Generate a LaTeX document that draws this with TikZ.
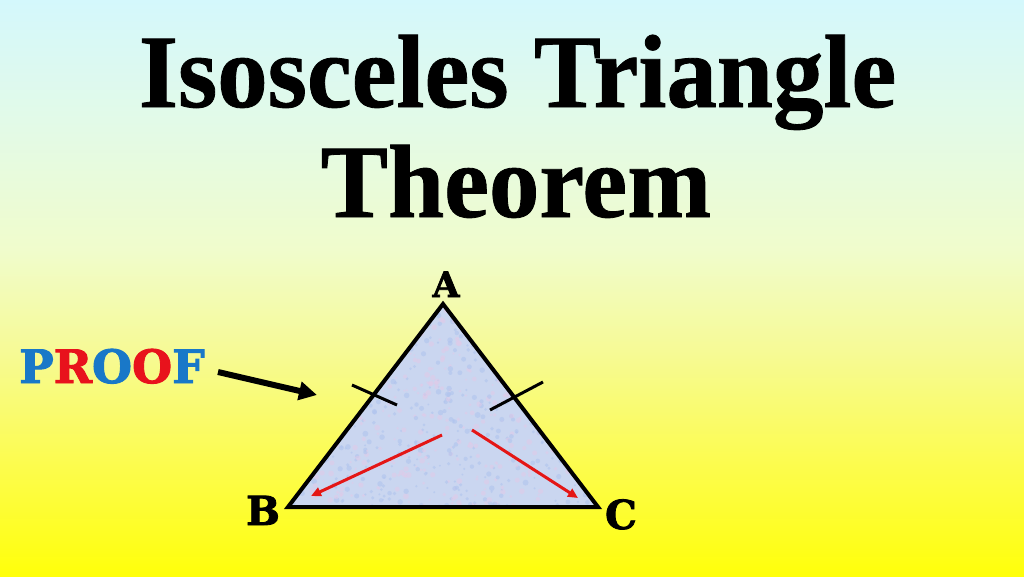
\documentclass[tikz,border=0pt]{standalone}
\usepackage{fontspec}
\usetikzlibrary{arrows.meta}
\newfontfamily\titlefont{Liberation Serif Bold}[FakeBold=0.8]
\newfontfamily\labfont{DejaVu Serif Bold}[FakeBold=2]
\definecolor{bgtop}{RGB}{212,248,252}
\definecolor{bgA}{RGB}{226,250,232}
\definecolor{bgB}{RGB}{240,252,204}
\definecolor{bgC}{RGB}{246,250,150}
\definecolor{bgD}{RGB}{252,252,80}
\definecolor{bgbot}{RGB}{255,255,10}
\definecolor{trifill}{RGB}{202,214,240}
\definecolor{speckA}{RGB}{176,196,238}
\definecolor{speckB}{RGB}{226,202,232}
\definecolor{pblue}{RGB}{25,120,200}
\definecolor{pred}{RGB}{232,18,28}
\definecolor{arrred}{RGB}{228,22,22}
\pgfdeclareverticalshading{bgshade}{100bp}{color(0bp)=(bgbot); color(25bp)=(bgbot); color(35bp)=(bgD); color(44.6bp)=(bgC); color(53.3bp)=(bgB); color(64.6bp)=(bgA); color(75bp)=(bgtop); color(100bp)=(bgtop)}
\tikzset{
  titletext/.style={font=\titlefont\fontsize{104}{110}\selectfont, anchor=base, inner sep=0pt},
  vlabel/.style={font=\labfont\fontsize{40}{44}\selectfont, anchor=base, inner sep=0pt},
  tick/.style={line width=3pt, black},
  redarrow/.style={line width=3pt, arrred, -{Triangle[length=10pt,width=9pt]}},
}
\begin{document}
\begin{tikzpicture}[x=1pt,y=-1pt]
\shade[shading=bgshade] (0,0) rectangle (1024,576);
\useasboundingbox (0,0) rectangle (1024,576);
% title
\node[titletext] (title1) at (517.5,107) {\scalebox{0.97}[1]{Isosceles Triangle}};
\node[titletext] (title2) at (516,217) {\scalebox{0.97}[1]{Theorem}};
% triangle
\coordinate (vA) at (443,304);
\coordinate (vB) at (288,507);
\coordinate (vC) at (598,507);
\fill[trifill] (vA) -- (vB) -- (vC) -- cycle;
\begin{scope}
\clip (vA) -- (vB) -- (vC) -- cycle;
\pgfmathsetseed{7}
\foreach \i in {1,...,1000} {
  \pgfmathsetmacro{\px}{288+310*rnd}
  \pgfmathsetmacro{\py}{304+203*rnd}
  \pgfmathsetmacro{\pr}{1+2*rnd}
  \ifodd\i
    \fill[speckA, opacity=0.6] (\px,\py) circle (\pr);
  \else
    \fill[speckB, opacity=0.5] (\px,\py) circle (\pr);
  \fi
}
\end{scope}
\draw[line width=4pt, line join=miter] (vA) -- (vB) -- (vC) -- cycle;
% tick marks
\coordinate (t1a) at (352,385); \coordinate (t1b) at (397,405);
\coordinate (t2a) at (490,410); \coordinate (t2b) at (543,382);
\draw[tick] (t1a) -- (t1b);
\draw[tick] (t2a) -- (t2b);
% red arrows
\coordinate (r1a) at (442,435); \coordinate (r1b) at (311,496);
\coordinate (r2a) at (472,430); \coordinate (r2b) at (578,498);
\draw[redarrow] (r1a) -- (r1b);
\draw[redarrow] (r2a) -- (r2b);
% vertex labels
\node[vlabel, font=\labfont\fontsize{35}{40}\selectfont] (A) at (446,297) {A};
\node[vlabel] (B) at (263,525) {B};
\node[vlabel] (C) at (621,529) {C};
% PROOF
\node[font=\labfont\fontsize{46}{50}\selectfont, anchor=base west, inner sep=0pt] (proof) at (19,383)
  {\textcolor{pblue}{P}\textcolor{pred}{R}\textcolor{pblue}{O}\textcolor{pred}{O}\textcolor{pblue}{F}};
\coordinate (p1) at (218,372);
\coordinate (p2) at (317,395);
\draw[line width=6pt, -{Triangle[length=18pt,width=18pt]}] (p1) -- (p2);
\end{tikzpicture}
\end{document}
